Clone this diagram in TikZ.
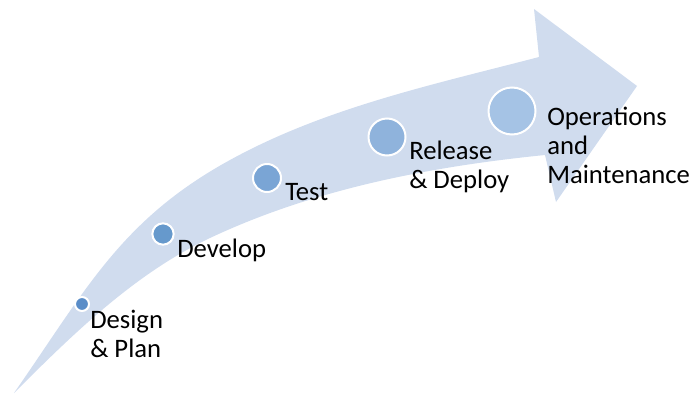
\documentclass[tikz,border=0pt]{standalone}
\usepackage{fontspec}
\setmainfont{Carlito}
\definecolor{arrowfill}{HTML}{D0DCEE}
\definecolor{cA}{HTML}{5A8DC8}
\definecolor{cB}{HTML}{6699CC}
\definecolor{cC}{HTML}{7AA5D5}
\definecolor{cD}{HTML}{8FB3DC}
\definecolor{cE}{HTML}{A5C3E5}
\begin{document}
\begin{tikzpicture}[x=0.75pt,y=-0.75pt,
  dot/.style={circle, draw=white, line width=1.5pt, inner sep=0pt},
  lbl/.style={anchor=base west, inner sep=0pt, align=left, font=\fontsize{20}{21.75}\selectfont}]
\useasboundingbox (0,0) rectangle (691,396);
\fill[arrowfill] (14,393) .. controls (85.5,290.5) and (120.5,220) .. (230,160)
  .. controls (325.5,107.5) and (433.5,84.5) .. (539,57)
  -- (534,9) -- (637,86) -- (556,202) -- (545,155)
  .. controls (430.6,166.5) and (314,189) .. (210,238)
  .. controls (134.9,273.3) and (72.7,334.3) .. (14,393) -- cycle;
\node[dot, fill=cA, minimum size=10.5pt] (d1) at (82,304) {};
\node[dot, fill=cB, minimum size=16pt] (d2) at (163,234) {};
\node[dot, fill=cC, minimum size=21pt] (d3) at (267,178) {};
\node[dot, fill=cD, minimum size=27.75pt] (d4) at (387,137) {};
\node[dot, fill=cE, minimum size=35.25pt] (d5) at (512,111) {};
\node[lbl] (t1) at (90,357) {Design\\\& Plan};
\node[lbl] (t2) at (177,257) {Develop};
\node[lbl] (t3) at (285,200) {Test};
\node[lbl] (t4) at (409,188) {Release\\\& Deploy};
\node[lbl] (t5) at (547,183) {Operations\\and\\Maintenance};
\end{tikzpicture}
\end{document}
